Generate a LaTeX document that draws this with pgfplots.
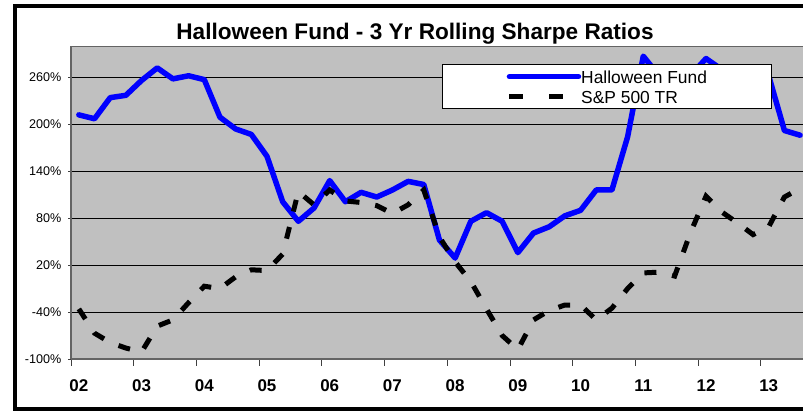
\documentclass[border=0pt]{standalone}
\usepackage{pgfplots}
\pgfplotsset{compat=1.18}
\usepackage{fontspec}
\setmainfont{Liberation Sans}
\definecolor{plotgray}{RGB}{192,192,192}
\definecolor{axgray}{RGB}{100,100,100}

\pgfplotstableread{
i v
0 212
1 207
2 234
3 237
4 256
5 272
6 258
7 262
8 257
9 209
10 194
11 187
12 159
13 101
14 76
15 93
16 128
17 101
18 113
19 107
20 116
21 127
22 123
23 52
24 29
25 76
26 87
27 76
28 36
29 61
30 69
31 83
32 90
33 116
34 116
35 184
36 287
37 262
38 270
39 262
40 284
41 270
42 266
43 264
44 262
45 192
46 186
}\fund

\pgfplotstableread{
i v
0 -36
1 -67
2 -79
3 -86
4 -91
5 -58
6 -50
7 -28
8 -7
9 -10
10 5
11 14
12 13
13 34
14 114
15 97
16 116
17 102
18 100
19 96
20 86
21 97
22 116
23 56
24 24
25 -1
26 -36
27 -70
28 -88
29 -50
30 -38
31 -31
32 -31
33 -50
34 -35
35 -10
36 10
37 11
38 6
39 61
40 108
41 88
42 74
43 59
44 69
45 107
46 118
}\spx

\begin{document}
\begin{tikzpicture}
\useasboundingbox (0,0) rectangle (803bp,-412bp);
\clip (0,0) rectangle (803bp,-412bp);
\fill[white] (0,0) rectangle (803bp,-412bp);
\draw[line width=4bp] (900bp,-6bp) -- (14.7bp,-6bp) -- (14.7bp,-409bp) -- (900bp,-409bp);
\node[anchor=base, font=\bfseries\fontsize{22.6bp}{25bp}\selectfont, inner sep=0pt] at (415bp,-39.3bp) {Halloween Fund - 3 Yr Rolling Sharpe Ratios};
\begin{axis}[
  scale only axis, width=752.6bp, height=313bp,
  at={(71bp,-359bp)}, anchor=south west,
  xmin=-0.5, xmax=47.5, ymin=-100, ymax=300,
  axis lines=left,
  axis line style={-, draw=axgray, line width=2bp},
  axis background/.style={fill=plotgray, draw=axgray, line width=1bp},
  ytick={-100,-40,20,80,140,200,260},
  yticklabels={-100\%,-40\%,20\%,80\%,140\%,200\%,260\%},
  ymajorgrids, grid style={black, line width=0.7bp},
  xtick={0,4,...,44},
  xticklabels={02,03,04,05,06,07,08,09,10,11,12,13},
  minor xtick={-0.5,3.5,...,43.5},
  xtick style={draw=none},
  minor x tick style={draw=black!75, line width=1bp},
  ytick style={draw=black!75, line width=1bp},
  tick align=outside, major tick length=3bp, minor tick length=6.5bp,
  xtick pos=left, ytick pos=left,
  yticklabel style={font=\fontsize{12.6bp}{14bp}\selectfont, anchor=east, inner sep=0pt, xshift=-6.5bp},
  xticklabel style={font=\bfseries\fontsize{17bp}{19bp}\selectfont, anchor=north, inner sep=0pt, yshift=-17.8bp},
  legend image code/.code={\draw[#1] (0bp,0bp) -- (69bp,0bp);},
  legend style={at={(0.4926,0.9415)}, anchor=north west, draw=black, line width=1bp, fill=white,
    font=\fontsize{17.4bp}{20bp}\selectfont, inner xsep=64.5bp, inner ysep=5.5bp,
    row sep=7.6bp, column sep=0bp,
    nodes={inner sep=0pt, text height=12.7bp, text depth=0pt}},
  legend cell align=left,
  clip=true,
]
\addplot[blue, line width=5.5bp, line join=round, line cap=round] table[x=i, y=v] {\fund};
\addlegendentry{Halloween Fund}
\addplot[black, line width=5bp, dash pattern=on 12bp off 16bp, line cap=butt,
  legend image post style={dash pattern=on 14bp off 26bp}] table[x=i, y=v] {\spx};
\addlegendentry{S\&P 500 TR}
\end{axis}
\end{tikzpicture}
\end{document}
